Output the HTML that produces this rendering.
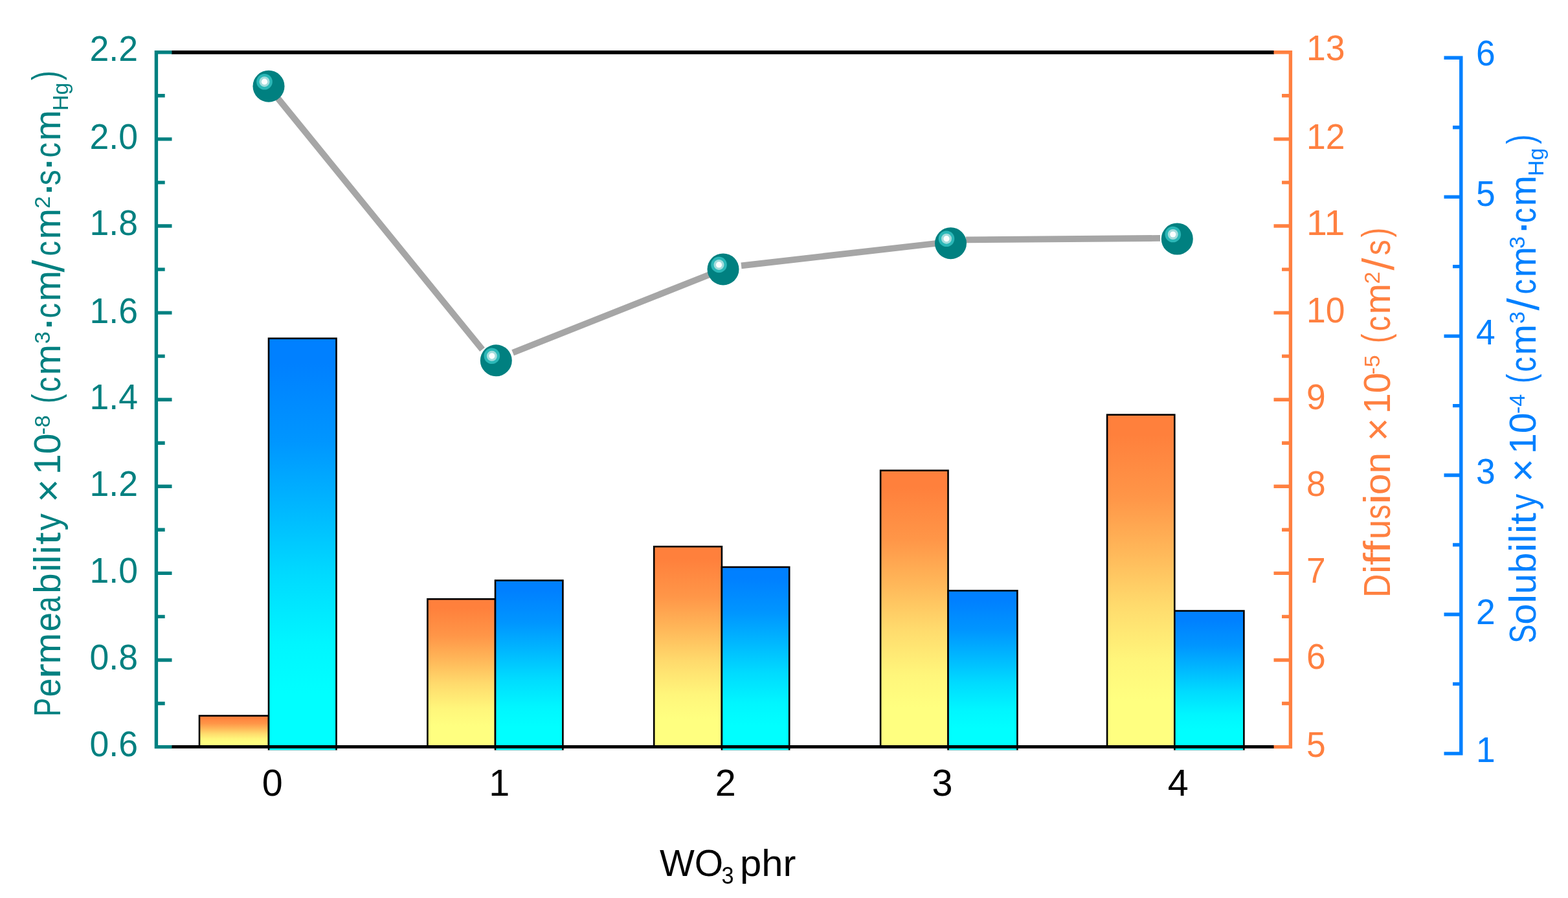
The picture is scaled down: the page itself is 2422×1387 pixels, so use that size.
<!DOCTYPE html>
<html lang="en"><head><meta charset="utf-8"><title>Permeability, diffusion and solubility vs WO3 phr</title>
<style>
html,body{margin:0;padding:0;background:#fff;}
body{width:2422px;height:1387px;overflow:hidden;}
svg{display:block;filter:blur(0.6px);}
text{font-family:"Liberation Sans",sans-serif;}
.tl{font-size:56px;}
.xl{font-size:57.5px;fill:#000;}
.tt{font-size:57px;}
.ss{font-size:34px;}
</style></head><body>
<svg width="2422" height="1387" viewBox="0 0 2422 1387" role="img" aria-label="Bar and line chart: permeability, diffusion and solubility versus WO3 phr">
<defs>
<linearGradient id="go" x1="0" y1="0" x2="0" y2="1"><stop offset="0" stop-color="#FF803C"/><stop offset="0.06" stop-color="#FF803C"/><stop offset="0.25" stop-color="#FF9648"/><stop offset="0.41" stop-color="#FFB759"/><stop offset="0.575" stop-color="#FFDB6D"/><stop offset="0.74" stop-color="#FFF67B"/><stop offset="0.86" stop-color="#FFFF80"/><stop offset="1" stop-color="#FFFF80"/></linearGradient>
<linearGradient id="gb" x1="0" y1="0" x2="0" y2="1"><stop offset="0" stop-color="#0080FF"/><stop offset="0.06" stop-color="#0080FF"/><stop offset="0.25" stop-color="#0096FF"/><stop offset="0.41" stop-color="#00B7FF"/><stop offset="0.575" stop-color="#00DBFF"/><stop offset="0.74" stop-color="#00F6FF"/><stop offset="0.86" stop-color="#00FFFF"/><stop offset="1" stop-color="#00FFFF"/></linearGradient>
</defs>
<rect width="2422" height="1387" fill="#fff"/>
<g stroke="#000" stroke-width="2.6">
<rect x="308.00" y="1105.50" width="107.00" height="48.10" fill="url(#go)"/>
<rect x="415.00" y="522.70" width="104.50" height="637.30" fill="url(#gb)"/>
<rect x="660.40" y="925.30" width="104.60" height="228.30" fill="url(#go)"/>
<rect x="765.00" y="896.50" width="104.40" height="263.50" fill="url(#gb)"/>
<rect x="1010.20" y="844.20" width="104.70" height="309.40" fill="url(#go)"/>
<rect x="1114.90" y="875.90" width="104.30" height="284.10" fill="url(#gb)"/>
<rect x="1360.10" y="726.70" width="104.40" height="426.90" fill="url(#go)"/>
<rect x="1464.50" y="912.30" width="106.90" height="247.70" fill="url(#gb)"/>
<rect x="1710.10" y="640.60" width="104.20" height="513.00" fill="url(#go)"/>
<rect x="1814.30" y="943.50" width="107.10" height="216.50" fill="url(#gb)"/>
</g>
<rect x="250" y="1158.7" width="1720" height="6" fill="#fff"/>
<g stroke-width="5.4" fill="none">
<path d="M265 80.9H1968" stroke="#000" stroke-width="5.6"/><path d="M265 1153.4H1968" stroke="#000" stroke-width="5"/>
<path d="M241.4 78.1V1156.3M241.4 80.8H265.5M241.4 147.8H254.7M241.4 214.9H265.5M241.4 281.9H254.7M241.4 349.0H265.5M241.4 416.1H254.7M241.4 483.1H265.5M241.4 550.1H254.7M241.4 617.2H265.5M241.4 684.2H254.7M241.4 751.3H265.5M241.4 818.3H254.7M241.4 885.4H265.5M241.4 952.4H254.7M241.4 1019.5H265.5M241.4 1086.5H254.7M241.4 1153.6H265.5" stroke="#008080"/>
<path d="M1993.4 78.1V1156.3M1993.4 80.8H1967.5M1993.4 147.8H1980M1993.4 214.9H1967.5M1993.4 281.9H1980M1993.4 349.0H1967.5M1993.4 416.1H1980M1993.4 483.1H1967.5M1993.4 550.1H1980M1993.4 617.2H1967.5M1993.4 684.2H1980M1993.4 751.3H1967.5M1993.4 818.3H1980M1993.4 885.4H1967.5M1993.4 952.4H1980M1993.4 1019.5H1967.5M1993.4 1086.5H1980M1993.4 1153.6H1967.5" stroke="#FF8040"/>
<path d="M2256.8 86.5V1166.6M2256.8 89.2H2230.5M2256.8 196.7H2244M2256.8 304.1H2230.5M2256.8 411.6H2244M2256.8 519.1H2230.5M2256.8 626.6H2244M2256.8 734.0H2230.5M2256.8 841.5H2244M2256.8 949.0H2230.5M2256.8 1056.4H2244M2256.8 1163.9H2230.5" stroke="#0080FF"/>
</g>
<g stroke="#A6A6A6" stroke-width="9.8" fill="none" stroke-linecap="butt">
<path d="M415 134.4L745 539.9M792.1 544.7L1100 422.5M1145 410.3L1450 375.5M1492 370.4L1792 367.9"/>
</g>
<g transform="translate(415.0 133.2)"><circle r="24.5" fill="#008080"/><circle cx="-6.5" cy="-7" r="12.3" fill="#2BB7B7"/><circle cx="-6.5" cy="-7" r="8" fill="#A3DCDC"/><circle cx="-6.5" cy="-7" r="4.6" fill="#FBFEFE"/></g>
<g transform="translate(766.3 556.8)"><circle r="24.5" fill="#008080"/><circle cx="-6.5" cy="-7" r="12.3" fill="#2BB7B7"/><circle cx="-6.5" cy="-7" r="8" fill="#A3DCDC"/><circle cx="-6.5" cy="-7" r="4.6" fill="#FBFEFE"/></g>
<g transform="translate(1117.0 415.9)"><circle r="24.5" fill="#008080"/><circle cx="-6.5" cy="-7" r="12.3" fill="#2BB7B7"/><circle cx="-6.5" cy="-7" r="8" fill="#A3DCDC"/><circle cx="-6.5" cy="-7" r="4.6" fill="#FBFEFE"/></g>
<g transform="translate(1468.5 375.7)"><circle r="24.5" fill="#008080"/><circle cx="-6.5" cy="-7" r="12.3" fill="#2BB7B7"/><circle cx="-6.5" cy="-7" r="8" fill="#A3DCDC"/><circle cx="-6.5" cy="-7" r="4.6" fill="#FBFEFE"/></g>
<g transform="translate(1818.3 369.0)"><circle r="24.5" fill="#008080"/><circle cx="-6.5" cy="-7" r="12.3" fill="#2BB7B7"/><circle cx="-6.5" cy="-7" r="8" fill="#A3DCDC"/><circle cx="-6.5" cy="-7" r="4.6" fill="#FBFEFE"/></g>
<g class="tl" fill="#008080" text-anchor="end">
<text x="213.0" y="93.9" textLength="74.4" lengthAdjust="spacingAndGlyphs">2.2</text>
<text x="213.0" y="230.0" textLength="74.4" lengthAdjust="spacingAndGlyphs">2.0</text>
<text x="213.0" y="363.0" textLength="74.4" lengthAdjust="spacingAndGlyphs">1.8</text>
<text x="213.0" y="498.5" textLength="74.4" lengthAdjust="spacingAndGlyphs">1.6</text>
<text x="213.0" y="631.5" textLength="74.4" lengthAdjust="spacingAndGlyphs">1.4</text>
<text x="213.0" y="765.6" textLength="74.4" lengthAdjust="spacingAndGlyphs">1.2</text>
<text x="213.0" y="899.7" textLength="74.4" lengthAdjust="spacingAndGlyphs">1.0</text>
<text x="213.0" y="1033.8" textLength="74.4" lengthAdjust="spacingAndGlyphs">0.8</text>
<text x="213.0" y="1168.4" textLength="74.4" lengthAdjust="spacingAndGlyphs">0.6</text>
</g>
<g class="tl" fill="#FF8040">
<text x="2018.0" y="93.4" textLength="59.5" lengthAdjust="spacingAndGlyphs">13</text>
<text x="2018.0" y="229.6" textLength="59.5" lengthAdjust="spacingAndGlyphs">12</text>
<text x="2018.0" y="363.3" textLength="59.5" lengthAdjust="spacingAndGlyphs">11</text>
<text x="2018.0" y="498.4" textLength="59.5" lengthAdjust="spacingAndGlyphs">10</text>
<text x="2018.0" y="631.5" textLength="29.7" lengthAdjust="spacingAndGlyphs">9</text>
<text x="2018.0" y="765.6" textLength="29.7" lengthAdjust="spacingAndGlyphs">8</text>
<text x="2018.0" y="899.7" textLength="29.7" lengthAdjust="spacingAndGlyphs">7</text>
<text x="2018.0" y="1033.1" textLength="29.7" lengthAdjust="spacingAndGlyphs">6</text>
<text x="2018.0" y="1169.4" textLength="29.7" lengthAdjust="spacingAndGlyphs">5</text>
</g>
<g class="tl" fill="#0080FF">
<text x="2280.0" y="101.2" textLength="29.7" lengthAdjust="spacingAndGlyphs">6</text>
<text x="2280.0" y="317.6" textLength="29.7" lengthAdjust="spacingAndGlyphs">5</text>
<text x="2280.0" y="532.4" textLength="29.7" lengthAdjust="spacingAndGlyphs">4</text>
<text x="2280.0" y="747.3" textLength="29.7" lengthAdjust="spacingAndGlyphs">3</text>
<text x="2280.0" y="963.6" textLength="29.7" lengthAdjust="spacingAndGlyphs">2</text>
<text x="2280.0" y="1177.3" textLength="29.7" lengthAdjust="spacingAndGlyphs">1</text>
</g>
<g class="xl" text-anchor="middle">
<text x="420.8" y="1229.2">0</text>
<text x="771.2" y="1229.2">1</text>
<text x="1120.7" y="1229.2">2</text>
<text x="1455.5" y="1229.2">3</text>
<text x="1819.7" y="1229.2">4</text>
</g>
<text class="tt" fill="#000" y="1352.5"><tspan x="1019">WO</tspan><tspan x="1114.5" y="1365" style="font-size:37px" textLength="19" lengthAdjust="spacingAndGlyphs">3</tspan> <tspan x="1143" y="1352.5" textLength="86.4" lengthAdjust="spacingAndGlyphs">phr</tspan></text>
<text class="tt" fill="#008080" transform="translate(93.0 0) rotate(-90)"><tspan y="0" style="font-size:57px"><tspan x="-1106.8" textLength="28.9" lengthAdjust="spacingAndGlyphs">P</tspan><tspan x="-1076.6" textLength="28.9" lengthAdjust="spacingAndGlyphs">e</tspan><tspan x="-1048.3" textLength="23.3" lengthAdjust="spacingAndGlyphs">r</tspan><tspan x="-1025.5" textLength="47.9" lengthAdjust="spacingAndGlyphs">m</tspan><tspan x="-975.6" textLength="29.5" lengthAdjust="spacingAndGlyphs">e</tspan><tspan x="-945.7" textLength="24.4" lengthAdjust="spacingAndGlyphs">a</tspan><tspan x="-916.8" textLength="31.5" lengthAdjust="spacingAndGlyphs">b</tspan><tspan x="-883.4" textLength="13.4" lengthAdjust="spacingAndGlyphs">i</tspan><tspan x="-870.7" textLength="13.4" lengthAdjust="spacingAndGlyphs">l</tspan><tspan x="-855.9" textLength="13.4" lengthAdjust="spacingAndGlyphs">i</tspan><tspan x="-841.2" textLength="19.0" lengthAdjust="spacingAndGlyphs">t</tspan><tspan x="-819.5" textLength="26.3" lengthAdjust="spacingAndGlyphs">y</tspan></tspan> <tspan x="-776.0" y="1.5" style="font-size:62px">×</tspan><tspan x="-733.0" y="0.0">10</tspan><tspan x="-671.5" y="-16.5" class="ss">-8</tspan> <tspan x="-623.0" y="-2.2" textLength="14.6" lengthAdjust="spacingAndGlyphs" style="font-size:60px">(</tspan><tspan y="0" style="font-size:57px"><tspan x="-605.4" textLength="23.4" lengthAdjust="spacingAndGlyphs">c</tspan><tspan x="-579.5" textLength="47.5" lengthAdjust="spacingAndGlyphs">m</tspan></tspan><tspan x="-531.0" y="-16.5" class="ss">3</tspan><tspan x="-513.1" y="2.9" style="font-size:74px">·</tspan><tspan y="0" style="font-size:57px"><tspan x="-491.4" textLength="23.4" lengthAdjust="spacingAndGlyphs">c</tspan><tspan x="-465.5" textLength="47.5" lengthAdjust="spacingAndGlyphs">m</tspan></tspan><tspan x="-420.5" y="5.5" style="font-size:68px">/</tspan><tspan y="0" style="font-size:57px"><tspan x="-395.4" textLength="23.4" lengthAdjust="spacingAndGlyphs">c</tspan><tspan x="-369.5" textLength="47.5" lengthAdjust="spacingAndGlyphs">m</tspan></tspan><tspan x="-322.0" y="-16.5" class="ss">2</tspan><tspan x="-305.1" y="2.9" style="font-size:74px">·</tspan><tspan y="0" style="font-size:57px"><tspan x="-286.3" textLength="23.9" lengthAdjust="spacingAndGlyphs">s</tspan></tspan><tspan x="-266.1" y="2.9" style="font-size:74px">·</tspan><tspan y="0" style="font-size:57px"><tspan x="-243.4" textLength="23.4" lengthAdjust="spacingAndGlyphs">c</tspan><tspan x="-217.5" textLength="47.5" lengthAdjust="spacingAndGlyphs">m</tspan></tspan><tspan x="-171.0" y="12.0" class="ss">Hg</tspan><tspan x="-124.0" y="-2.2" textLength="14.6" lengthAdjust="spacingAndGlyphs" style="font-size:60px">)</tspan></text>
<text class="tt" fill="#FF8040" transform="translate(2147.0 0) rotate(-90)"><tspan y="0" style="font-size:57px"><tspan x="-922.7" textLength="36.2" lengthAdjust="spacingAndGlyphs">D</tspan><tspan x="-886.0" textLength="13.4" lengthAdjust="spacingAndGlyphs">i</tspan><tspan x="-872.9" textLength="19.2" lengthAdjust="spacingAndGlyphs">f</tspan><tspan x="-854.4" textLength="19.2" lengthAdjust="spacingAndGlyphs">f</tspan><tspan x="-833.1" textLength="30.2" lengthAdjust="spacingAndGlyphs">u</tspan><tspan x="-801.9" textLength="22.7" lengthAdjust="spacingAndGlyphs">s</tspan><tspan x="-779.3" textLength="16.5" lengthAdjust="spacingAndGlyphs">i</tspan><tspan x="-764.2" textLength="32.6" lengthAdjust="spacingAndGlyphs">o</tspan><tspan x="-731.4" textLength="32.6" lengthAdjust="spacingAndGlyphs">n</tspan></tspan> <tspan x="-681.5" y="1.5" style="font-size:62px">×</tspan><tspan x="-639.0" y="0.0">10</tspan><tspan x="-578.5" y="-16.5" class="ss">-5</tspan> <tspan x="-530.0" y="-2.2" textLength="14.6" lengthAdjust="spacingAndGlyphs" style="font-size:60px">(</tspan><tspan y="0" style="font-size:57px"><tspan x="-511.4" textLength="23.4" lengthAdjust="spacingAndGlyphs">c</tspan><tspan x="-485.5" textLength="47.5" lengthAdjust="spacingAndGlyphs">m</tspan></tspan><tspan x="-438.5" y="-16.5" class="ss">2</tspan><tspan x="-417.5" y="5.5" style="font-size:68px">/</tspan><tspan y="0" style="font-size:57px"><tspan x="-394.3" textLength="23.9" lengthAdjust="spacingAndGlyphs">s</tspan></tspan><tspan x="-366.5" y="-2.2" textLength="14.6" lengthAdjust="spacingAndGlyphs" style="font-size:60px">)</tspan></text>
<text class="tt" fill="#0080FF" transform="translate(2371.5 0) rotate(-90)"><tspan y="0" style="font-size:57px"><tspan x="-993.4" textLength="29.0" lengthAdjust="spacingAndGlyphs">S</tspan><tspan x="-964.7" textLength="32.2" lengthAdjust="spacingAndGlyphs">o</tspan><tspan x="-932.1" textLength="14.2" lengthAdjust="spacingAndGlyphs">l</tspan><tspan x="-917.2" textLength="30.8" lengthAdjust="spacingAndGlyphs">u</tspan><tspan x="-885.1" textLength="31.4" lengthAdjust="spacingAndGlyphs">b</tspan><tspan x="-853.0" textLength="14.4" lengthAdjust="spacingAndGlyphs">i</tspan><tspan x="-838.8" textLength="13.4" lengthAdjust="spacingAndGlyphs">l</tspan><tspan x="-824.6" textLength="14.7" lengthAdjust="spacingAndGlyphs">i</tspan><tspan x="-809.9" textLength="17.9" lengthAdjust="spacingAndGlyphs">t</tspan><tspan x="-787.0" textLength="24.2" lengthAdjust="spacingAndGlyphs">y</tspan></tspan> <tspan x="-744.5" y="1.5" style="font-size:62px">×</tspan><tspan x="-701.0" y="0.0">10</tspan><tspan x="-639.0" y="-16.5" class="ss">-4</tspan> <tspan x="-592.0" y="-2.2" textLength="14.6" lengthAdjust="spacingAndGlyphs" style="font-size:60px">(</tspan><tspan y="0" style="font-size:57px"><tspan x="-574.4" textLength="23.4" lengthAdjust="spacingAndGlyphs">c</tspan><tspan x="-548.5" textLength="47.5" lengthAdjust="spacingAndGlyphs">m</tspan></tspan><tspan x="-500.0" y="-16.5" class="ss">3</tspan><tspan x="-479.5" y="5.5" style="font-size:68px">/</tspan><tspan y="0" style="font-size:57px"><tspan x="-454.4" textLength="23.4" lengthAdjust="spacingAndGlyphs">c</tspan><tspan x="-428.5" textLength="47.5" lengthAdjust="spacingAndGlyphs">m</tspan></tspan><tspan x="-384.0" y="-16.5" class="ss">3</tspan><tspan x="-364.1" y="2.9" style="font-size:74px">·</tspan><tspan y="0" style="font-size:57px"><tspan x="-344.4" textLength="23.4" lengthAdjust="spacingAndGlyphs">c</tspan><tspan x="-318.5" textLength="47.5" lengthAdjust="spacingAndGlyphs">m</tspan></tspan><tspan x="-272.0" y="12.0" class="ss">Hg</tspan><tspan x="-222.5" y="-2.2" textLength="14.6" lengthAdjust="spacingAndGlyphs" style="font-size:60px">)</tspan></text>
</svg>
</body></html>
